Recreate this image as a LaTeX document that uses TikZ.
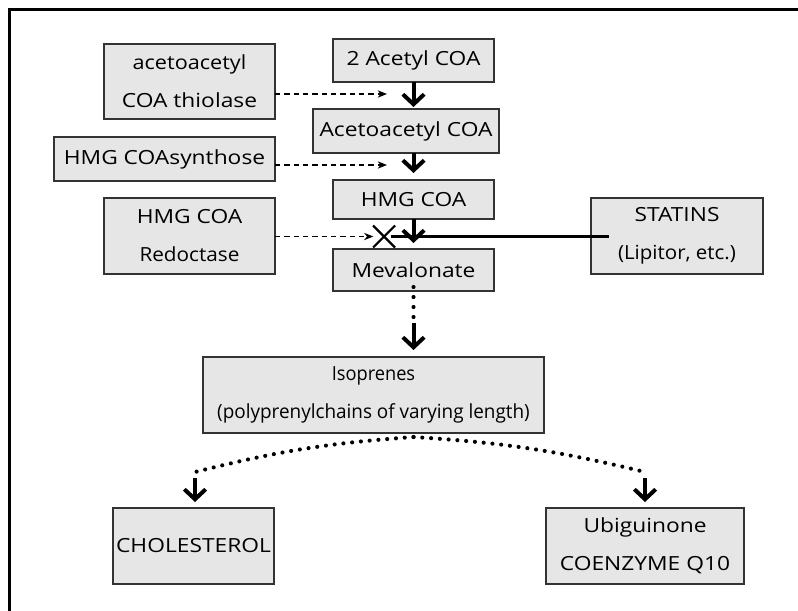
\documentclass[tikz,border=0pt]{standalone}
\usepackage{fontspec}
\usepackage{graphicx}
\setmainfont{Open Sans}[FakeStretch=1.17]
\usetikzlibrary{arrows.meta}
\definecolor{boxfill}{HTML}{E6E6E6}
\definecolor{boxline}{HTML}{333333}
\begin{document}
\begin{tikzpicture}[x=0.75pt,y=-0.75pt,
  every node/.style={inner sep=0pt,outer sep=0pt},
  pbox/.style={draw=boxline,fill=boxfill,line width=1.1pt,align=center,
    font=\fontsize{14.6pt}{28.5pt}\selectfont},
  thickarrow/.style={line width=3pt,-{Straight Barb[length=7.5pt,width=16pt]}},
  dasharrow/.style={line width=0.85pt,dash pattern=on 4pt off 3pt,
    -{Stealth[length=7pt,width=5.5pt]}},
  dotline/.style={line width=3.1pt,line cap=round,dash pattern=on 0pt off 7.5pt},
  dotline2/.style={line width=3.1pt,line cap=round,dash pattern=on 0pt off 6.6pt},
  xline/.style={line width=1.6pt},
  inhib/.style={line width=2.4pt}]
\useasboundingbox (0,0) rectangle (798,610);
\clip (0,0) rectangle (798,610);
% frame
\draw[line width=2.4pt] (9.5,640) -- (9.5,9.5) -- (830,9.5);
% enzyme boxes
\node[pbox,minimum width=128.25pt,minimum height=56.25pt] (thiol) at (189.5,81.5) {\scalebox{0.95}[1]{acetoacetyl}\\COA thiolase};
\node[pbox,minimum width=165.75pt,minimum height=33pt] (synth) at (164.5,159) {HMG COAsynthose};
\node[pbox,minimum width=128.25pt,minimum height=57pt] (redoc) at (189.5,236) {HMG COA\\\scalebox{0.91}[1]{Redoctase}};
% pathway boxes
\node[pbox,minimum width=120.75pt,minimum height=32.25pt] (acetyl) at (413.5,60.5) {2 Acetyl COA};
\node[pbox,minimum width=139.5pt,minimum height=33pt] (acetoac) at (406,131) {Acetoacetyl COA};
\node[pbox,minimum width=120.75pt,minimum height=29.25pt] (hmg) at (413.5,199.5) {HMG COA};
\node[pbox,minimum width=120.75pt,minimum height=31.5pt] (meva) at (413.5,270) {Mevalonate};
\node[pbox,minimum width=129pt,minimum height=57pt] (statins) at (677,236) {STATINS\\\scalebox{0.9}[1]{(Lipitor, etc.)}};
\node[pbox,minimum width=255.75pt,minimum height=57pt] (isop) at (373.5,395) {\scalebox{0.8}[1]{Isoprenes}\\\scalebox{0.83}[1]{(polyprenylchains of varying length)}};
\node[pbox,minimum width=120.75pt,minimum height=57pt] (chol) at (193.5,546) {CHOLESTEROL};
\node[pbox,minimum width=148.5pt,minimum height=57pt] (ubi) at (645,546) {Ubiguinone\\COENZYME Q10};
% coordinates
\coordinate (t1e) at (387,94);
\coordinate (s1e) at (387,165);
\coordinate (xmark) at (384,236.5);
\coordinate (split) at (413.5,437);
\coordinate (lend) at (195,472);
\coordinate (rend) at (645,472);
% main thick arrows
\draw[thickarrow] (acetyl.south) -- ([yshift=1.5pt]acetyl.south |- acetoac.north);
\draw[thickarrow] (hmg.north |- acetoac.south) -- ([yshift=5.25pt]hmg.north);
\draw[thickarrow] (hmg.south) -- ([yshift=4.5pt]meva.north);
% mevalonate to isoprenes
\draw[dotline] ([yshift=3pt]meva.south) -- ([yshift=-22pt]meva.south);
\draw[thickarrow] ([yshift=-24pt]meva.south) -- ([yshift=5.25pt]meva.south |- isop.north);
% split
\draw[dotline2] (split) to[bend right=5] (lend);
\draw[dotline2] (split) to[bend left=5] (rend);
\draw[thickarrow] ([yshift=-4.5pt]lend) -- ([yshift=4.5pt]lend |- chol.north);
\draw[thickarrow] ([yshift=-4.5pt]rend) -- ([yshift=4.5pt]rend |- ubi.north);
% dashed enzyme arrows
\draw[dasharrow] (thiol.east |- t1e) -- (t1e);
\draw[dasharrow] (synth.east |- s1e) -- (s1e);
\draw[dasharrow] (redoc.east |- xmark) -- ([xshift=-8pt]xmark);
% X mark and statin inhibition line
\draw[xline] ([shift={(-8.25pt,-8.25pt)}]xmark) -- ([shift={(8.25pt,8.25pt)}]xmark);
\draw[xline] ([shift={(-8.25pt,8.25pt)}]xmark) -- ([shift={(8.25pt,-8.25pt)}]xmark);
\draw[inhib] ([xshift=5pt]xmark) -- ([xshift=13.5pt]statins.west |- xmark);
\end{tikzpicture}
\end{document}
